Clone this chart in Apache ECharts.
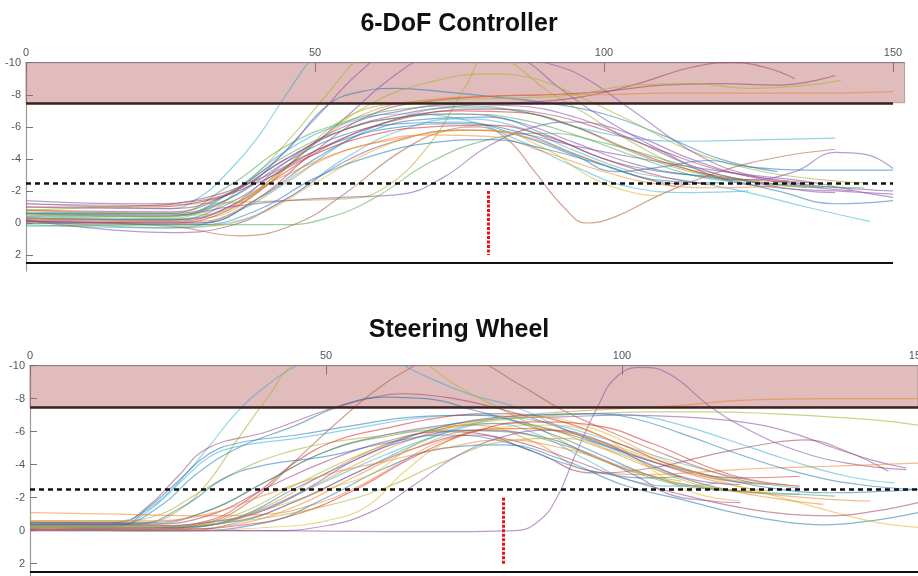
<!DOCTYPE html>
<html>
<head>
<meta charset="utf-8">
<script src="https://cdn.jsdelivr.net/npm/echarts@6/dist/echarts.min.js"></script>
<style>
html,body{margin:0;padding:0;background:#fff;}
#chart{width:918px;height:576px;}
</style>
</head>
<body>
<div id="chart"></div>
<script>
// ---------- tick labels ----------
const xTickValues = [0, 50, 100, 150];
const yTickValues = [-10, -8, -6, -4, -2, 0, 2];

// ---------- reference levels ----------
const bandTop = -10;
const bandBottom = -7.5;
const dashedLevel = -2.5;
const floorLevel = 2.5;
const markerX = 80;
const markerRange = [-2, 2];

const titles = ['6-DoF Controller', 'Steering Wheel'];

// ---------- 6-DoF Controller curves ([time, value]) ----------
const dofCurves = [
  [[0,-1.2],[15,-1.0],[25,-0.9],[30,-1.6],[35,-3.2],[40,-5.3],[45,-8],[50,-10.5],[55,-12]],
  [[0,-0.5],[20,-0.4],[30,-0.6],[38,-2.5],[45,-5],[52,-8],[58,-10.5],[62,-11.5]],
  [[0,-0.3],[25,-0.2],[35,-1],[45,-3.5],[55,-6.5],[63,-9],[70,-10.5],[78,-11],[86,-10.2],[92,-8.5],[100,-6.5],[110,-4.5],[120,-2.8],[130,-2.2],[140,-2.0],[150,-1.8]],
  [[0,-0.6],[25,-0.5],[35,-1.5],[45,-4.5],[52,-7.3],[58,-8.2],[64,-8.4],[72,-8.2],[80,-7.9],[90,-7.5],[100,-6.8],[110,-5.5],[120,-4],[130,-3.2]],
  [[0,-0.8],[30,-1.2],[45,-1.4],[55,-1.5],[62,-2.2],[70,-5],[76,-8.5],[80,-10.5],[84,-10],[90,-8.3],[96,-7],[105,-5],[115,-3.3],[125,-2.6],[135,-2.2]],
  [[0,-0.4],[30,-0.5],[40,-2],[50,-5],[60,-7.5],[70,-8.8],[80,-9.3],[88,-9],[95,-8],[105,-6.3],[115,-4.5],[125,-3.4],[135,-2.8],[145,-2.5]],
  [[0,-1.4],[20,-1.2],[30,-1.4],[40,-3],[50,-6.5],[58,-9.5],[65,-11],[80,-11],[90,-10],[96,-9.2],[105,-7],[116,-4.3],[125,-3],[135,-2.4],[145,-2.1],[150,-2.0]],
  [[0,-0.8],[25,-0.7],[35,-1.8],[45,-4],[55,-5.8],[65,-6.8],[75,-7.3],[85,-7.5],[95,-7.8],[105,-8.6],[115,-9.7],[122,-10],[128,-9.7],[133,-9.0]],
  [[0,0],[30,0],[40,-1.5],[50,-4.5],[60,-6.8],[70,-7.6],[80,-7.9],[90,-8.0],[100,-8.2],[110,-8.6],[120,-8.7],[130,-8.6],[140,-9.2]],
  [[0,-0.3],[25,-0.2],[38,-1.5],[50,-5],[60,-7],[70,-7.7],[80,-7.9],[90,-8.0],[100,-8.0],[110,-8.1],[120,-8.1],[135,-8.1],[150,-8.2]],
  [[0,-0.2],[30,-0.3],[45,-3.5],[55,-6.5],[65,-7.5],[75,-7.7],[85,-7.8],[95,-8],[105,-8.6],[115,-8.7],[125,-8.4],[135,-8.6],[141,-8.9]],
  [[0,-0.2],[25,0.3],[35,-0.5],[45,-2.5],[55,-5],[65,-6.6],[75,-7.2],[85,-7],[95,-6],[105,-5.3],[115,-5.1],[128,-5.2],[140,-5.3]],
  [[0,-1.0],[25,-0.9],[35,-1.8],[45,-4],[55,-5.8],[65,-6.6],[75,-6.8],[85,-6.3],[95,-5],[105,-3.7],[115,-3.0],[125,-2.7],[133,-3.2],[140,-4.4],[145,-4.3],[150,-3.4]],
  [[0,-0.6],[25,-0.6],[35,-1.5],[45,-3.8],[55,-5.5],[65,-6.2],[75,-6.3],[85,-5.5],[95,-4.2],[102,-3.2],[110,-3.5],[118,-3.9],[125,-3.5],[135,-3.3],[150,-3.3]],
  [[0,-0.1],[30,0],[40,-1.5],[50,-4],[60,-5.8],[70,-6.5],[80,-6.6],[90,-5.5],[100,-4],[110,-3.2],[120,-2.8],[130,-2],[140,-1.2],[150,-1.4]],
  [[0,0.1],[25,0.3],[35,0],[45,-1.5],[55,-4],[65,-5.8],[75,-6.5],[85,-6],[95,-4.5],[105,-3.2],[115,-2.6],[125,-1.9],[135,-1.0],[146,-0.1]],
  [[0,-0.2],[25,0.6],[35,0.2],[45,-1.5],[55,-3.8],[65,-5.2],[75,-5.8],[85,-5.6],[95,-4.8],[105,-4.1],[115,-3.5],[125,-3.0],[135,-2.6],[145,-1.9],[150,-1.6]],
  [[0,-0.1],[25,0.2],[37,0.8],[47,0],[55,-1.8],[65,-4.5],[73,-5.8],[78,-6.0],[83,-5.3],[88,-3.2],[93,-1],[97,0],[102,-0.4],[110,-1.8],[120,-3.2],[130,-4.1],[140,-4.6]],
  [[0,0.2],[30,0.1],[45,0.1],[52,-0.3],[60,-1.5],[70,-3.8],[80,-5.2],[90,-5.6],[100,-5],[110,-4],[120,-3],[130,-2.4],[138,-2.2]],
  [[0,-0.5],[25,-0.5],[35,-1],[45,-1.4],[55,-1.6],[65,-1.8],[72,-2.8],[80,-4.8],[88,-6],[95,-6.3],[105,-5.5],[115,-4],[125,-2.9],[135,-2.3],[143,-2]],
  [[0,-0.1],[25,0],[35,-0.8],[45,-3.2],[55,-5.3],[65,-6.5],[75,-7.0],[85,-6.9],[95,-6.0],[105,-4.5],[115,-3.3],[125,-2.7],[132,-2.6]],
  [[0,-0.3],[25,-0.2],[35,-1.2],[45,-3.5],[55,-5.2],[65,-6.0],[75,-6.2],[85,-5.7],[95,-4.3],[105,-3.0],[112,-2.6],[120,-2.5]],
  [[0,-0.6],[25,-0.4],[35,-1.8],[45,-4.2],[55,-5.8],[65,-6.6],[75,-6.8],[85,-6.5],[95,-5.5],[105,-4.2],[115,-3.0],[122,-2.6]],
  [[0,-0.8],[25,-0.6],[35,-1.3],[45,-3],[55,-4.5],[65,-5.3],[75,-5.8],[85,-5.5],[95,-4.3],[105,-3.0],[113,-2.2]],
  [[0,-0.2],[25,-0.1],[35,-1],[45,-3.8],[55,-6.0],[65,-7.0],[75,-7.4],[85,-7.3],[95,-6.6],[105,-5.2],[115,-3.6],[125,-2.6],[135,-2.0],[140,-1.9]],
  [[0,-0.4],[25,-0.3],[35,-1.8],[45,-4.5],[55,-6.2],[65,-6.8],[75,-6.5],[85,-5.2],[95,-3.5],[105,-2.2],[115,-1.9],[125,-2.0]],
  [[0,0],[30,0.2],[40,-0.5],[50,-2.5],[60,-4.5],[70,-5.6],[80,-5.8],[90,-4.6],[98,-2.8],[105,-1.9],[110,-1.7]],
  [[0,-0.7],[25,-0.6],[35,-2.3],[45,-4.8],[55,-6.3],[65,-7.1],[75,-7.3],[85,-7],[95,-6],[105,-4.4],[115,-3.2],[125,-2.6],[135,-2.3],[145,-2.2]],
  [[0,-1.0],[20,-1.0],[30,-1.3],[40,-2.5],[50,-4.3],[60,-5.5],[70,-6.0],[80,-6.1],[90,-5.4],[100,-4],[110,-2.9],[118,-2.4]],
  [[0,-0.3],[30,-0.1],[40,-1.5],[50,-3.7],[60,-5],[70,-5.5],[80,-5.4],[90,-4.4],[100,-3.2],[110,-2.4],[120,-2.2],[130,-2.3]],
  [[0,0],[30,0.1],[40,-0.8],[50,-2.8],[60,-4.2],[70,-5],[80,-5.2],[90,-4.6],[100,-3.6],[108,-2.7],[115,-2.4]],
  [[0,-1.2],[20,-1.1],[30,-1.5],[40,-2.7],[50,-4.5],[60,-6],[70,-6.9],[80,-7.1],[90,-6.8],[100,-5.8],[110,-4.5],[120,-3.3],[130,-2.7],[136,-2.5]]
];

// ---------- Steering Wheel curves ([time, value]) ----------
const wheelCurves = [
  [[0,-0.3],[10,-0.3],[15,-0.5],[20,-1.3],[25,-2.9],[30,-5],[35,-7.2],[40,-8.8],[45,-10],[52,-11],[60,-10.5],[66,-9.5],[74,-8.3],[82,-7.5],[90,-6.2],[98,-5],[105,-4],[112,-3],[120,-2.4],[130,-2.2]],
  [[0,-0.4],[15,-0.4],[20,-0.5],[25,-1.2],[30,-2.9],[35,-5.5],[40,-8],[45,-10.2],[55,-11.5],[65,-10.5],[72,-8.8],[80,-7.3],[88,-5.8],[95,-4.5],[103,-3.5],[110,-3]],
  [[0,-0.5],[15,-0.5],[20,-1.5],[25,-3.3],[30,-5.0],[40,-6],[50,-7.3],[57,-8.0],[63,-8.3],[70,-8.1],[77,-7.6],[85,-6.8],[95,-5.5],[105,-4.2],[115,-3.2],[125,-2.8]],
  [[0,-0.3],[15,-0.3],[20,-1.4],[25,-3.0],[30,-4.6],[35,-5.3],[45,-5.8],[55,-6.4],[65,-6.9],[75,-7.0],[85,-6.4],[95,-5.4],[105,-4.2],[115,-3.3],[125,-2.6],[135,-2.3],[145,-2.4],[150,-2.5]],
  [[0,-0.2],[15,-0.3],[20,-1.2],[25,-2.8],[30,-4.4],[35,-5.1],[45,-5.6],[55,-6.2],[65,-6.8],[75,-7.0],[85,-6.7],[95,-5.8],[105,-4.6],[115,-3.6],[125,-2.8],[130,-2.6]],
  [[0,-0.6],[15,-0.6],[22,-1.0],[28,-2.2],[35,-3.6],[42,-4.6],[50,-5.3],[60,-5.8],[70,-6.3],[80,-6.5],[90,-6],[100,-5],[110,-3.8],[120,-3],[128,-2.8]],
  [[0,-1.1],[15,-1.0],[30,-0.9],[40,-1.0],[48,-1.6],[55,-2.6],[62,-4],[70,-5.5],[80,-6.2],[90,-6],[100,-4.9],[110,-3.6],[118,-2.8],[125,-2.4]],
  [[0,0],[20,0],[40,0],[60,0.05],[75,0.05],[82,0],[86,-0.6],[89,-2],[92,-4.5],[96,-7.6],[99,-9.3],[103,-9.9],[108,-9.5],[115,-7.5],[122,-6],[130,-4.8],[138,-4.1],[148,-3.7]],
  [[0,-0.2],[20,-0.2],[30,-0.6],[38,-2.2],[45,-4.2],[52,-5.5],[60,-6.2],[70,-6.9],[80,-7.1],[90,-6.6],[100,-5.2],[110,-3.8],[120,-3.2],[130,-3.3]],
  [[0,-0.1],[20,-0.1],[30,-0.5],[38,-2],[45,-4.3],[52,-6.6],[58,-8.4],[63,-9.6],[68,-10.3],[75,-10.2],[82,-9],[90,-7.3],[98,-6],[106,-4.8],[115,-3.6],[122,-2.9]],
  [[0,-0.4],[15,-0.4],[22,-1.5],[28,-3.4],[35,-5.0],[45,-6.4],[52,-7.5],[60,-8.1],[67,-8.0],[75,-7.3],[83,-6.5],[90,-5.6],[97,-4.5],[105,-3.3],[112,-2.7],[120,-2.4]],
  [[0,-0.1],[25,0],[35,-0.5],[45,-1.8],[55,-3.5],[65,-5.2],[75,-6.5],[85,-7.0],[95,-7.1],[102,-7.0],[110,-6.4],[118,-5.5],[128,-4.3],[138,-3.3],[146,-2.9]],
  [[0,-0.3],[25,-0.3],[35,-1],[45,-2.8],[55,-4.5],[65,-5.8],[75,-6.5],[85,-6.9],[95,-7.1],[105,-7.2],[115,-7.2],[125,-7.1],[135,-6.9],[143,-6.7],[150,-6.4]],
  [[0,-0.5],[20,-0.5],[30,-1.2],[40,-3],[50,-4.8],[60,-5.8],[70,-6.4],[80,-6.8],[90,-6.9],[100,-7.0],[110,-6.9],[120,-6.6],[128,-6.0],[136,-5.0],[143,-4.2],[148,-3.8]],
  [[0,-0.1],[20,0],[30,-0.3],[40,-1.5],[50,-3.5],[60,-5.2],[70,-6.3],[80,-6.9],[90,-7.2],[100,-7.4],[110,-7.6],[120,-7.9],[135,-8.0],[150,-8.0]],
  [[0,-0.2],[20,-0.2],[35,-0.6],[45,-1.8],[55,-3.5],[65,-5.0],[75,-5.8],[85,-4.8],[95,-3.5],[105,-3.8],[115,-4.6],[125,-5.3],[131,-5.5],[138,-4.8],[145,-3.6]],
  [[0,-0.3],[25,-0.3],[35,-0.7],[45,-2.2],[55,-4],[65,-5.6],[75,-6.4],[85,-5.4],[95,-3.6],[105,-3.4],[115,-3.6],[125,-3.8],[135,-3.9],[150,-4.1]],
  [[0,-0.2],[25,-0.2],[35,-0.8],[45,-2.6],[55,-4.3],[65,-5.8],[75,-6.7],[85,-7.0],[95,-7.1],[102,-6.8],[110,-5.9],[120,-4.6],[130,-3.5],[140,-2.8],[150,-2.5]],
  [[0,-0.1],[25,0],[40,-0.5],[50,-2],[60,-3.8],[70,-5],[80,-5.2],[90,-4.3],[100,-2.8],[110,-1.9],[120,-1.0],[128,-0.5],[134,-0.35],[142,-0.6],[150,-1.1]],
  [[0,-0.3],[20,-0.3],[30,-0.5],[40,-1.3],[50,-2.5],[58,-3.5],[65,-5.2],[75,-6.6],[85,-6.9],[95,-6.2],[105,-4.6],[115,-3.2],[125,-2.2],[135,-1.2],[143,-0.5],[150,-0.2]],
  [[0,-0.4],[20,-0.4],[30,-0.9],[40,-2.6],[50,-4.2],[60,-5.4],[70,-6],[80,-5.6],[90,-4.5],[100,-3.2],[110,-2.2],[120,-1.4],[128,-1.0],[135,-0.9],[143,-1.2],[150,-1.7]],
  [[0,-0.2],[25,-0.1],[35,-0.4],[45,-1.5],[55,-3.3],[65,-5],[75,-6.1],[85,-6.2],[95,-5.2],[105,-3.8],[115,-2.7],[125,-2.0],[134,-1.6]],
  [[0,-0.1],[25,0],[40,-0.2],[50,-0.6],[57,-1.5],[63,-3.5],[70,-5.3],[78,-6.2],[88,-6.4],[96,-5.8],[102,-4.5],[108,-3],[113,-2.2],[120,-1.8]],
  [[0,-0.5],[20,-0.4],[30,-1.2],[40,-3],[50,-4.8],[60,-5.7],[70,-6.1],[80,-6.0],[90,-5.2],[100,-3.8],[108,-2.9],[115,-2.5],[125,-2.3],[136,-2.1]],
  [[0,-0.3],[20,-0.3],[30,-0.5],[40,-1.3],[48,-2.8],[55,-4.3],[65,-5.6],[75,-6.1],[85,-5.8],[95,-4.6],[103,-3.2],[108,-2.2],[115,-1.8],[120,-1.7]],
  [[0,-0.2],[20,-0.1],[30,-0.3],[40,-1.4],[50,-3.0],[60,-4.6],[70,-5.9],[78,-6.5],[86,-5.8],[94,-4.3],[102,-3],[110,-2.7],[116,-2.9]],
  [[0,-0.4],[18,-0.4],[26,-1.5],[33,-3.2],[40,-4.0],[50,-4.5],[60,-5.3],[70,-5.8],[80,-5.4],[90,-4.1],[98,-3.4],[105,-3.2],[110,-3.3]],
  [[0,-0.6],[20,-0.6],[30,-1],[40,-2.2],[50,-3.4],[60,-4.2],[70,-5.0],[80,-5.5],[90,-5.0],[100,-3.9],[108,-3.0],[115,-2.6],[125,-2.2],[135,-1.9],[142,-1.8]],
  [[0,-0.1],[25,-0.1],[35,-0.3],[45,-1.0],[55,-2.5],[65,-4.5],[75,-6.0],[85,-6.6],[95,-6.4],[105,-5.3],[115,-3.8],[123,-3.0],[130,-2.7]],
  [[0,-0.2],[20,-0.2],[30,-0.4],[40,-0.8],[50,-1.5],[60,-2.6],[70,-4.2],[80,-5.4],[90,-5.6],[100,-4.6],[110,-3.1],[117,-2.5],[122,-2.4]],
  [[0,0],[25,0],[40,0],[50,-0.3],[58,-1.2],[65,-2.8],[72,-4.5],[80,-5.7],[88,-6.1],[96,-5.5],[104,-4.1],[112,-3.1],[120,-2.8]]
];

// ---------- styling (not data) ----------
const palette = {
  blue:'rgba(31,119,180,0.55)', orange:'rgba(240,130,40,0.55)', green:'rgba(60,160,70,0.5)',
  red:'rgba(214,39,40,0.55)', purple:'rgba(140,90,170,0.6)', brown:'rgba(180,100,70,0.6)',
  cyan:'rgba(40,170,210,0.5)', olive:'rgba(175,180,50,0.6)', yellow:'rgba(230,180,40,0.55)',
  maroon:'rgba(160,60,100,0.55)'
};
const dofColorKeys = ['cyan','olive','purple','blue','olive','olive','purple','maroon','maroon','orange','olive','cyan','purple','blue','blue','cyan','purple','brown','green','purple','red','blue','green','orange','purple','cyan','yellow','green','red','orange','blue','maroon'];
const wheelColorKeys = ['cyan','olive','maroon','blue','cyan','olive','orange','purple','red','brown','blue','cyan','olive','purple','orange','maroon','orange','blue','blue','yellow','maroon','orange','yellow','green','purple','cyan','blue','orange','red','olive','purple'];

function buildSeries(curves, keys, gi) {
  const out = curves.map((c, i) => ({
    type: 'line', xAxisIndex: gi, yAxisIndex: gi, data: c,
    smooth: 0.45, showSymbol: false, silent: true, z: 2,
    lineStyle: { width: 1.2, color: palette[keys[i % keys.length]] }
  }));
  const xEnd = 150;
  out.push({
    type: 'line', xAxisIndex: gi, yAxisIndex: gi, data: [], silent: true, z: 5,
    markArea: {
      silent: true,
      itemStyle: { color: 'rgba(180,95,95,0.42)', borderColor: 'rgba(120,100,100,0.5)', borderWidth: 1 },
      data: [[{ coord: [0, bandTop] }, { coord: [gi === 0 ? 152 : 150, bandBottom] }]]
    },
    markLine: {
      silent: true, symbol: ['none', 'none'], label: { show: false }, animation: false,
      data: [
        [{ coord: [0, bandBottom], lineStyle: { color: '#3a2222', width: 2.6, type: 'solid' } }, { coord: [xEnd, bandBottom] }],
        [{ coord: [0, dashedLevel], lineStyle: { color: '#111', width: 2.6, type: [5, 4] } }, { coord: [xEnd, dashedLevel] }],
        [{ coord: [0, floorLevel], lineStyle: { color: '#111', width: 2.2, type: 'solid' } }, { coord: [xEnd, floorLevel] }],
        [{ coord: [markerX, markerRange[0]], lineStyle: { color: '#e3161d', width: 3, type: [3, 1.5] } }, { coord: [markerX, markerRange[1]] }]
      ]
    }
  });
  return out;
}

const axisGrey = '#9a9a9a';
function xAxis(gi, max) {
  return {
    type: 'value', gridIndex: gi, position: 'top', min: 0, max: max,
    splitLine: { show: false },
    axisLine: { show: true, onZero: false, lineStyle: { color: axisGrey, width: 1 } },
    axisTick: { show: true, inside: true, length: 9, customValues: xTickValues, lineStyle: { color: '#777' } },
    axisLabel: { customValues: xTickValues, color: '#555', fontSize: 11, margin: 4, fontFamily: 'Liberation Sans' }
  };
}
function yAxis(gi) {
  return {
    type: 'value', gridIndex: gi, inverse: true, min: -10, max: 3,
    splitLine: { show: false },
    axisLine: { show: true, onZero: false, lineStyle: { color: axisGrey, width: 1.2 } },
    axisTick: { show: true, inside: true, length: 7, customValues: yTickValues, lineStyle: { color: '#777' } },
    axisLabel: { customValues: yTickValues, color: '#555', fontSize: 11, margin: 5, fontFamily: 'Liberation Sans' }
  };
}

const chart = echarts.init(document.getElementById('chart'), null, { renderer: 'canvas' });
chart.setOption({
  animation: false,
  backgroundColor: '#fff',
  title: [
    { text: titles[0], left: 'center', top: 7, textStyle: { fontSize: 25, fontWeight: 'bold', color: '#111', fontFamily: 'Liberation Sans' } },
    { text: titles[1], left: 'center', top: 313, textStyle: { fontSize: 25, fontWeight: 'bold', color: '#111', fontFamily: 'Liberation Sans' } }
  ],
  grid: [
    { left: 26, top: 62.7, width: 878.6, height: 208.4, containLabel: false, outerBoundsMode: 'none' },
    { left: 30, top: 365.7, width: 888, height: 214.5, containLabel: false, outerBoundsMode: 'none' }
  ],
  xAxis: [xAxis(0, 152), xAxis(1, 150)],
  yAxis: [yAxis(0), yAxis(1)],
  series: [].concat(buildSeries(dofCurves, dofColorKeys, 0), buildSeries(wheelCurves, wheelColorKeys, 1))
});
</script>
</body>
</html>
